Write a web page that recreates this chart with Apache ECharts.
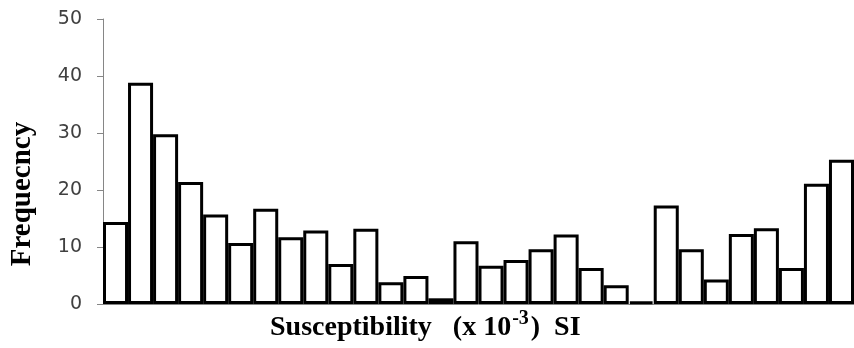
<!DOCTYPE html>
<html>
<head>
<meta charset="utf-8">
<script src="https://cdn.jsdelivr.net/npm/echarts@6/dist/echarts.min.js"></script>
<style>
html,body{margin:0;padding:0;background:#fff;}
#c{width:854px;height:348px;}
</style>
</head>
<body>
<div id="c"></div>
<script>
// Data (30 bins)
const categories = ['1','2','3','4','5','6','7','8','9','10','11','12','13','14','15','16','17','18','19','20','21','22','23','24','25','26','27','28','29','30'];
const frequency = [14.4, 38.8, 29.8, 21.4, 15.7, 10.7, 16.7, 11.7, 12.9, 7.0, 13.2, 3.8, 4.9, 1.0, 11.0, 6.7, 7.7, 9.6, 12.2, 6.3, 3.3, 0.4, 17.3, 9.6, 4.3, 12.3, 13.3, 6.3, 21.1, 25.3];
const yTicks = [0, 10, 20, 30, 40, 50];
const xTitleMain = 'Susceptibility   (x 10';
const xTitleSup = '-3';
const xTitleEnd = ')  SI';
const yTitle = 'Frequecncy';

const mainFont = 'bold 28px "Liberation Serif"';
const supFont = 'bold 20px "Liberation Serif"';
const mctx = document.createElement('canvas').getContext('2d');
function tw(t, f) { mctx.font = f; return mctx.measureText(t).width; }
const tx0 = 270;
const tx1 = tx0 + tw(xTitleMain, mainFont) + 1;
const tx2 = tx1 + tw(xTitleSup, supFont) + 2;

const chart = echarts.init(document.getElementById('c'), null, {renderer: 'canvas'});
chart.setOption({
  animation: false,
  backgroundColor: '#ffffff',
  grid: {left: 103, top: 19, bottom: 44, width: 754},
  xAxis: {
    type: 'category',
    data: categories,
    axisLine: {lineStyle: {color: '#868686', width: 1}},
    axisTick: {show: false},
    axisLabel: {show: false},
    splitLine: {show: false}
  },
  yAxis: {
    type: 'value',
    min: yTicks[0],
    max: yTicks[yTicks.length - 1],
    interval: 10,
    axisLine: {show: true, lineStyle: {color: '#868686', width: 1}},
    axisTick: {show: true, length: 6, lineStyle: {color: '#868686'}},
    axisLabel: {color: '#404040', fontFamily: 'DejaVu Sans', fontSize: 19, margin: 21},
    splitLine: {show: false}
  },
  series: [{
    type: 'bar',
    data: frequency,
    barWidth: '100%',
    itemStyle: {color: '#ffffff', borderColor: '#000000', borderWidth: 3}
  }],
  graphic: [
    {
      type: 'text', x: tx0, y: 328,
      style: {text: xTitleMain, verticalAlign: 'middle', font: mainFont, fill: '#000'}
    },
    {
      type: 'text', x: tx1, y: 319,
      style: {text: xTitleSup, verticalAlign: 'middle', font: supFont, fill: '#000'}
    },
    {
      type: 'text', x: tx2, y: 328,
      style: {text: xTitleEnd, verticalAlign: 'middle', font: mainFont, fill: '#000'}
    },
    {
      type: 'text',
      x: 23, y: 194,
      rotation: Math.PI / 2,
      style: {
        text: yTitle,
        align: 'center',
        verticalAlign: 'middle',
        font: 'bold 29px "Liberation Serif"',
        fill: '#000'
      }
    }
  ]
});
</script>
</body>
</html>
